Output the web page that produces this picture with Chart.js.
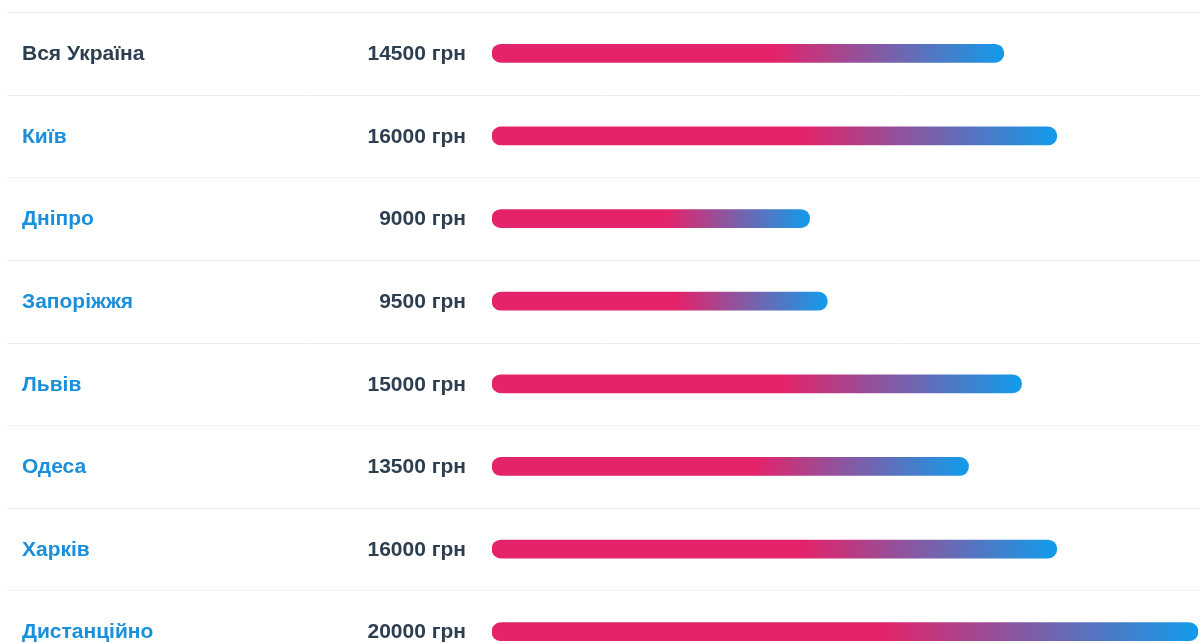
<!DOCTYPE html>
<html>
<head>
<meta charset="utf-8">
<script src="https://cdn.jsdelivr.net/npm/chart.js@4.4.1/dist/chart.umd.min.js"></script>
<style>
  html, body { margin: 0; padding: 0; background: #fff; overflow: hidden; }
  #wrap { position: relative; width: 1200px; height: 676px; }
</style>
</head>
<body>
<div id="wrap"><canvas id="salaryChart"></canvas></div>
<script>
// дані зарплат по містах
const cities = ['Вся Україна', 'Київ', 'Дніпро', 'Запоріжжя', 'Львів', 'Одеса', 'Харків', 'Дистанційно'];
const salaries = [14500, 16000, 9000, 9500, 15000, 13500, 16000, 20000];
const currency = 'грн';
const xMax = 20000;

const PINK = '#e4236a';
const BLUE = '#119ceb';
const FONT = 'bold 21px "Liberation Sans", Arial, sans-serif';

// градієнт окремо для кожного бару
function barGradient(ctx) {
    const chart = ctx.chart;
    if (!chart.chartArea) return PINK;
    const x = chart.scales.x;
    const x0 = x.getPixelForValue(0);
    const x1 = x.getPixelForValue(ctx.raw);
    const g = chart.ctx.createLinearGradient(x0, 0, x1, 0);
    g.addColorStop(0, PINK);
    g.addColorStop(0.55, PINK);
    g.addColorStop(1, BLUE);
    return g;
}

// підписи та розділювачі рядків
const rowLabels = {
    id: 'rowLabels',
    beforeDatasetsDraw(chart) {
        const c = chart.ctx;
        const y = chart.scales.y;
        c.save();
        c.strokeStyle = '#eeeeee';
        c.lineWidth = 1;
        for (let i = 0; i <= cities.length; i++) {
            const py = Math.round(y.getPixelForValue(i - 0.5)) + 0.5;
            c.beginPath();
            c.moveTo(7, py);
            c.lineTo(chart.width, py);
            c.stroke();
        }
        c.font = FONT;
        c.textBaseline = 'middle';
        cities.forEach((name, i) => {
            const py = y.getPixelForValue(i) + 1;
            c.fillStyle = i === 0 ? '#2c3e50' : '#1a8fdb';
            c.textAlign = 'left';
            c.fillText(name, 22, py);
            c.fillStyle = '#2c3e50';
            c.textAlign = 'right';
            c.fillText(salaries[i] + ' ' + currency, 466, py);
        });
        c.restore();
    }
};

new Chart(document.getElementById('salaryChart'), {
    type: 'bar',
    data: {
        labels: cities,
        datasets: [{
            data: salaries,
            backgroundColor: barGradient,
            barThickness: 18,
            borderRadius: 9,
            borderSkipped: false
        }]
    },
    options: {
        indexAxis: 'y',
        responsive: true,
        maintainAspectRatio: false,
        animation: false,
        layout: { padding: { left: 492, right: 2, top: 12, bottom: 3 } },
        plugins: { legend: { display: false }, tooltip: { enabled: false } },
        scales: {
            x: { display: false, min: 0, max: xMax },
            y: { display: false }
        }
    },
    plugins: [rowLabels]
});
</script>
</body>
</html>
